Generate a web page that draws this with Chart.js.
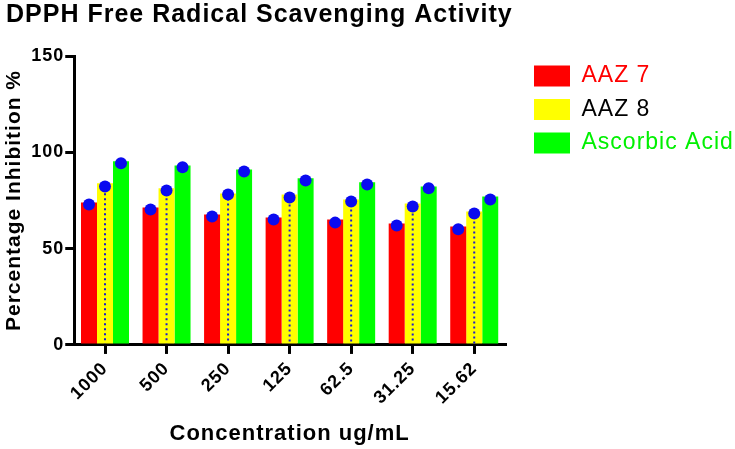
<!DOCTYPE html>
<html>
<head>
<meta charset="utf-8">
<script src="https://cdn.jsdelivr.net/npm/chart.js@4/dist/chart.umd.min.js"></script>
<style>
  html, body { margin: 0; padding: 0; background: #fff; }
  #wrap { width: 735px; height: 449px; }
</style>
</head>
<body>
<div id="wrap"><canvas id="chart" width="735" height="449"></canvas></div>
<script>
const concentrations = ['1000', '500', '250', '125', '62.5', '31.25', '15.62'];
const seriesNames = ['AAZ 7', 'AAZ 8', 'Ascorbic Acid'];
const aaz7 = [74.0, 71.4, 67.7, 66.1, 65.1, 63.0, 61.5];
const aaz8 = [83.9, 81.3, 78.6, 78.1, 75.5, 73.4, 69.3];
const ascorbic = [95.3, 93.2, 91.1, 86.5, 84.4, 82.3, 77.1];
// blue markers sitting on each bar
const aaz7Dots = [72.9, 70.3, 66.7, 65.1, 63.5, 62.0, 60.0];
const aaz8Dots = [82.3, 80.2, 78.1, 76.6, 74.5, 71.9, 68.2];
const ascorbicDots = [94.3, 92.2, 90.1, 85.4, 83.3, 81.3, 75.5];
const yTicks = [0, 50, 100, 150];

const barColors = ['#ff0000', '#ffff00', '#00ff00'];
const textColors = ['#ff0000', '#000000', '#00f000'];
const dotSets = [aaz7Dots, aaz8Dots, ascorbicDots];
const FONT = 'Liberation Sans, Arial, sans-serif';

// the reference text is set a little wide
const wideText = {
  id: 'wideText',
  beforeLayout(chart) { chart.ctx.letterSpacing = '1px'; },
  beforeDraw(chart) { chart.ctx.letterSpacing = '1px'; },
};

// legend sits to the right of the plot, a bit away from it; title nudged in
const legendPlace = {
  id: 'legendPlace',
  beforeInit(chart) {
    const lg = chart.legend;
    const fit = lg.fit;
    lg.fit = function () { fit.call(this); this.width = 230; };
  },
  afterLayout(chart) {
    const lg = chart.legend;
    lg.left = 523.5;
    lg.top = 54;
    if (chart.titleBlock) chart.titleBlock.left += 6;
  },
};

// dotted blue line down the middle of the AAZ 8 bars + blue markers
const barDecor = {
  id: 'barDecor',
  afterDatasetsDraw(chart) {
    const ctx = chart.ctx;
    const y = chart.scales.y;
    const meta8 = chart.getDatasetMeta(1);
    ctx.save();
    ctx.strokeStyle = '#1a1ad0';
    ctx.lineWidth = 2;
    ctx.setLineDash([2, 3]);
    meta8.data.forEach((bar) => {
      ctx.beginPath();
      ctx.moveTo(bar.x, bar.y);
      ctx.lineTo(bar.x, bar.base);
      ctx.stroke();
    });
    ctx.setLineDash([]);
    ctx.fillStyle = '#0a0af0';
    dotSets.forEach((vals, di) => {
      chart.getDatasetMeta(di).data.forEach((bar, i) => {
        ctx.beginPath();
        ctx.arc(bar.x, y.getPixelForValue(vals[i]), 6, 0, Math.PI * 2);
        ctx.fill();
      });
    });
    ctx.restore();
  }
};

new Chart(document.getElementById('chart'), {
  type: 'bar',
  data: {
    labels: concentrations,
    datasets: [
      { label: seriesNames[0], data: aaz7, backgroundColor: barColors[0] },
      { label: seriesNames[1], data: aaz8, backgroundColor: barColors[1] },
      { label: seriesNames[2], data: ascorbic, backgroundColor: barColors[2] },
    ],
  },
  options: {
    responsive: false,
    animation: false,
    layout: { padding: { left: 0, right: 0, top: 0, bottom: 0 } },
    datasets: { bar: { categoryPercentage: 0.78, barPercentage: 1 } },
    plugins: {
      tooltip: { enabled: false },
      title: {
        display: true,
        text: 'DPPH Free Radical Scavenging Activity',
        align: 'start',
        color: '#000',
        font: { family: FONT, size: 25, weight: 'bold' },
        padding: { top: 0, bottom: 26 },
      },
      legend: {
        position: 'right',
        align: 'start',
        labels: {
          boxWidth: 36,
          boxHeight: 21,
          padding: 10.5,
          font: { family: FONT, size: 23 },
          generateLabels(chart) {
            return chart.data.datasets.map((ds, i) => ({
              text: ds.label,
              fillStyle: ds.backgroundColor,
              strokeStyle: ds.backgroundColor,
              fontColor: textColors[i],
              lineWidth: 0,
              datasetIndex: i,
            }));
          },
        },
      },
    },
    scales: {
      x: {
        grid: { display: true, drawOnChartArea: false, offset: false, tickLength: 9, tickColor: '#000', lineWidth: 3 },
        border: { color: '#000', width: 3 },
        ticks: {
          color: '#000',
          maxRotation: 45,
          minRotation: 45,
          padding: 4,
          font: { family: FONT, size: 18, weight: 'bold' },
        },
        title: {
          display: true,
          text: 'Concentration ug/mL',
          color: '#000',
          font: { family: FONT, size: 22, weight: 'bold' },
          padding: { top: 8, bottom: 2 },
        },
      },
      y: {
        min: 0,
        max: 150,
        afterBuildTicks(axis) { axis.ticks = yTicks.map((v) => ({ value: v })); },
        grid: { display: true, drawOnChartArea: false, tickLength: 9, tickColor: '#000', lineWidth: 3 },
        border: { color: '#000', width: 3 },
        ticks: {
          color: '#000',
          padding: 1,
          font: { family: FONT, size: 18, weight: 'bold' },
        },
        title: {
          display: true,
          text: 'Percentage Inhibition %',
          color: '#000',
          font: { family: FONT, size: 21, weight: 'bold' },
          padding: { top: 2, bottom: 3 },
        },
      },
    },
  },
  plugins: [wideText, legendPlace, barDecor],
});
</script>
</body>
</html>
